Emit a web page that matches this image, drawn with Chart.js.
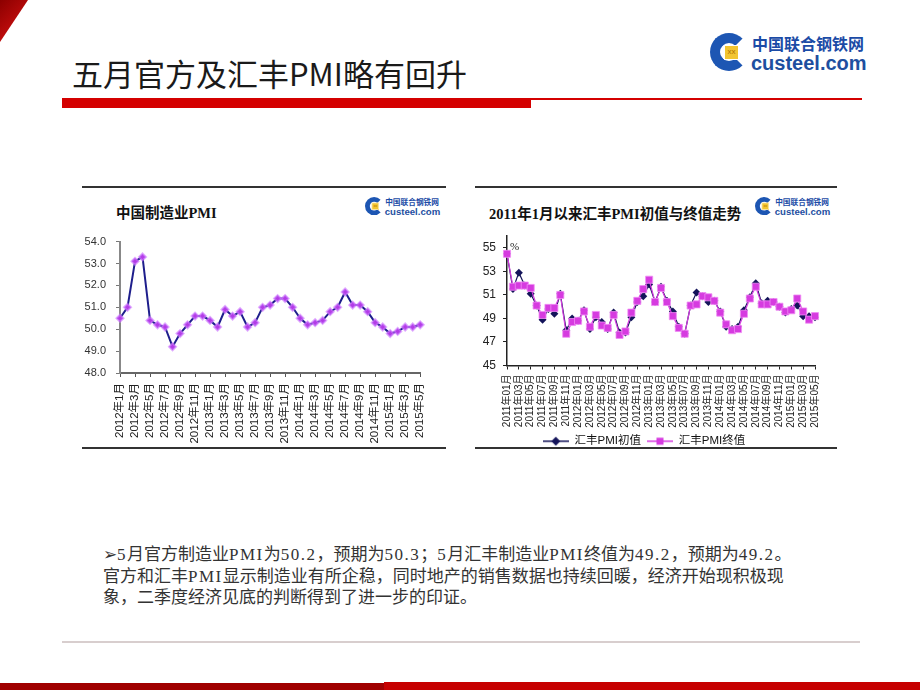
<!DOCTYPE html>
<html lang="zh">
<head>
<meta charset="UTF-8">
<title>五月官方及汇丰PMI略有回升</title>
<script src="https://cdn.jsdelivr.net/npm/chart.js"></script>
<style>
  * { margin: 0; padding: 0; }
  body {
    width: 920px; height: 690px; position: relative; overflow: hidden;
    background: #fff; font-family: "Noto Sans CJK SC", sans-serif;
  }
  .corner {
    position: absolute; left: 0; top: 0; width: 28px; height: 42px;
    background: linear-gradient(135deg, #8c0000, #e01414);
    clip-path: polygon(0 0, 100% 0, 0 100%);
  }
  .slideTitle {
    position: absolute; left: 72px; top: 53px; font-size: 31px; line-height: 40px;
    color: #1a1a1a; white-space: nowrap;
  }
  .barThick { position: absolute; left: 62px; top: 98px; width: 469px; height: 10px; background: #d40000; }
  .barThin { position: absolute; left: 531px; top: 98px; width: 331px; height: 1.5px; background: #d40000; }

  .logo { position: absolute; width: 170px; height: 44px; transform-origin: 0 0; }
  .logoC {
    position: absolute; left: 0; top: 2px; width: 38px; height: 38px; box-sizing: border-box;
    border-radius: 50%; border: 10px solid #1d56b3; border-right-color: transparent;
  }
  .logoX {
    position: absolute; left: 14px; top: 14px; width: 13px; height: 13px; background: #f2c531;
    border: 1px solid #fff; font: 8px/12px "Liberation Sans", sans-serif; color: #b07000; text-align: center;
  }
  .logoCn { position: absolute; left: 42px; top: 2px; font-size: 16px; line-height: 20px; font-weight: bold; color: #1b4ba6; white-space: nowrap; }
  .logoEn { position: absolute; left: 41px; top: 20px; font: bold 20px/24px "Liberation Sans", sans-serif; color: #1e4f9f; white-space: nowrap; }

  .panel {
    position: absolute; top: 186px; height: 263px; box-sizing: border-box;
    border-top: 2px solid #333; border-bottom: 2px solid #333; background: #fff;
  }
  .chartTitle {
    position: absolute; font-family: "Liberation Serif", "Noto Sans CJK SC", serif;
    font-weight: bold; font-size: 14.5px; line-height: 18px; color: #111; white-space: nowrap;
  }
  .box { position: absolute; }

  .note {
    position: absolute; left: 103px; top: 544px; width: 720px;
    font-family: "Liberation Serif", "Noto Sans CJK SC", serif;
    font-size: 17px; line-height: 21.5px; color: #333; white-space: nowrap;
  }
  .note span { letter-spacing: 1.5px; }
  .footLine { position: absolute; left: 62px; top: 641px; width: 798px; height: 2px; background: #d8cece; }
  .footRedA { position: absolute; left: 0; top: 683px; width: 384px; height: 7px; background: #a00000; }
  .footRedB { position: absolute; left: 384px; top: 682px; width: 536px; height: 8px; background: #c60000; }
</style>
</head>
<body>
  <div class="corner"></div>
  <div class="slideTitle">五月官方及汇丰PMI略有回升</div>
  <div class="barThick"></div>
  <div class="barThin"></div>

  <div class="logo" style="left:710px; top:31px;">
    <div class="logoC"></div><div class="logoX">xx</div>
    <div class="logoCn">中国联合钢铁网</div>
    <div class="logoEn">custeel.com</div>
  </div>

  <!-- left panel: official PMI -->
  <div class="panel" style="left:82px; width:364px;"></div>
  <div class="chartTitle" style="left:116px; top:204px;">中国制造业PMI</div>
  <div class="logo" style="left:365px; top:196px; transform:scale(0.48);">
    <div class="logoC"></div><div class="logoX">xx</div>
    <div class="logoCn">中国联合钢铁网</div>
    <div class="logoEn">custeel.com</div>
  </div>
  <div class="box" style="left:80px; top:225px;">
    <canvas id="officialChart" width="360" height="225"></canvas>
  </div>

  <!-- right panel: HSBC PMI -->
  <div class="panel" style="left:475px; width:362px;"></div>
  <div class="chartTitle" style="left:489px; top:205px;">2011年1月以来汇丰PMI初值与终值走势</div>
  <div class="logo" style="left:755px; top:196px; transform:scale(0.48);">
    <div class="logoC"></div><div class="logoX">xx</div>
    <div class="logoCn">中国联合钢铁网</div>
    <div class="logoEn">custeel.com</div>
  </div>
  <div class="box" style="left:470px; top:222px;">
    <canvas id="hsbcChart" width="362" height="237"></canvas>
  </div>

  <div class="note">
    ➢<span>5</span>月官方制造业<span>PMI</span>为<span>50.2</span>，预期为<span>50.3</span>；<span>5</span>月汇丰制造业<span>PMI</span>终值为<span>49.2</span>，预期为<span>49.2</span>。<br>
    官方和汇丰<span>PMI</span>显示制造业有所企稳，同时地产的销售数据也持续回暖，经济开始现积极现<br>
    象，二季度经济见底的判断得到了进一步的印证。
  </div>
  <div class="footLine"></div>
  <div class="footRedA"></div>
  <div class="footRedB"></div>

<script>
// data
const officialMonths = [];
for (let y = 2012; y <= 2015; y++) {
  for (let m = 1; m <= 12; m++) {
    if (y === 2015 && m > 5) break;
    officialMonths.push(y + '年' + m + '月');
  }
}
const officialPMI = [
  50.5, 51.0, 53.1, 53.3, 50.4, 50.2, 50.1, 49.2, 49.8, 50.2, 50.6, 50.6,
  50.4, 50.1, 50.9, 50.6, 50.8, 50.1, 50.3, 51.0, 51.1, 51.4, 51.4, 51.0,
  50.5, 50.2, 50.3, 50.4, 50.8, 51.0, 51.7, 51.1, 51.1, 50.8, 50.3, 50.1,
  49.8, 49.9, 50.1, 50.1, 50.2
];

const hsbcMonths = [];
for (let y = 2011; y <= 2015; y++) {
  for (let m = 1; m <= 12; m++) {
    if (y === 2015 && m > 5) break;
    hsbcMonths.push(y + '年' + (m < 10 ? '0' + m : m) + '月');
  }
}
const hsbcFlash = [
  54.5, 51.5, 52.9, 51.8, 51.1, 50.1, 48.9, 49.8, 49.4, 51.1, 48.0, 49.0,
  48.8, 49.7, 48.1, 49.1, 48.7, 48.1, 49.5, 47.8, 47.8, 49.1, 50.4, 50.9,
  51.9, 50.4, 51.7, 50.5, 49.6, 48.3, 47.7, 50.1, 51.2, 50.9, 50.4, 50.5,
  49.6, 48.3, 48.1, 48.3, 49.7, 50.8, 52.0, 50.3, 50.5, 50.4, 50.0, 49.5,
  49.8, 50.1, 49.2, 49.2, 49.1
];
const hsbcFinal = [
  54.5, 51.7, 51.8, 51.8, 51.6, 50.1, 49.3, 49.9, 49.9, 51.0, 47.7, 48.7,
  48.8, 49.6, 48.3, 49.3, 48.4, 48.2, 49.3, 47.6, 47.9, 49.5, 50.5, 51.5,
  52.3, 50.4, 51.6, 50.4, 49.2, 48.2, 47.7, 50.1, 50.2, 50.9, 50.8, 50.5,
  49.5, 48.5, 48.0, 48.1, 49.4, 50.7, 51.7, 50.2, 50.2, 50.4, 50.0, 49.6,
  49.7, 50.7, 49.6, 48.9, 49.2
];
const hsbcYTicks = [45, 47, 49, 51, 53, 55];

const cjkFont = '"Liberation Sans", "Noto Sans CJK SC", sans-serif';

// every second month gets a label and a tick mark
function everyOther(value, index) {
  return index % 2 === 0 ? this.getLabelForValue(value) : null;
}

// official PMI
new Chart(document.getElementById('officialChart'), {
  type: 'line',
  data: {
    labels: officialMonths,
    datasets: [{
      label: '中国制造业PMI',
      data: officialPMI,
      borderColor: '#1e1e8c',
      borderWidth: 2,
      pointStyle: 'rectRot',
      pointRadius: 3.5,
      pointBackgroundColor: '#b23ce6',
      pointBorderColor: 'rgba(205, 120, 255, 0.6)',
      pointBorderWidth: 2,
      tension: 0
    }]
  },
  options: {
    responsive: false,
    animation: false,
    layout: { padding: { top: 10, right: 10, bottom: 0, left: 0 } },
    plugins: { legend: { display: false }, tooltip: { enabled: false } },
    scales: {
      x: {
        afterFit(scale) { scale.height = 77; },
        grid: { drawOnChartArea: false, tickLength: 4, color: '#555' },
        border: { color: '#666', width: 2 },
        ticks: {
          autoSkip: false, maxRotation: 90, minRotation: 90, padding: 6,
          color: '#222', font: { family: cjkFont, size: 11.5 },
          callback: everyOther
        }
      },
      y: {
        min: 48, max: 54,
        afterFit(scale) { scale.width = 40; },
        grid: { drawOnChartArea: false, tickLength: 4, color: '#777' },
        border: { color: '#888', width: 2 },
        ticks: {
          stepSize: 1, padding: 10, color: '#333',
          font: { family: '"Liberation Sans", sans-serif', size: 11 },
          callback: (v) => v.toFixed(1)
        }
      }
    }
  }
});

// legend marks: a short line with the series marker on it
function legendMark(color, shape) {
  const c = document.createElement('canvas');
  c.width = 26; c.height = 12;
  const g = c.getContext('2d');
  g.strokeStyle = color; g.lineWidth = 1.5;
  g.beginPath(); g.moveTo(0, 6); g.lineTo(26, 6); g.stroke();
  g.fillStyle = color;
  if (shape === 'diamond') {
    g.beginPath(); g.moveTo(13, 1.5); g.lineTo(17.5, 6); g.lineTo(13, 10.5); g.lineTo(8.5, 6); g.closePath(); g.fill();
  } else {
    g.fillRect(9.5, 2.5, 7, 7);
  }
  return c;
}
const flashMark = legendMark('#14145a', 'diamond');
const finalMark = legendMark('#d63be0', 'square');

const percentMark = {
  id: 'percentMark',
  afterDraw(chart) {
    const y = chart.scales.y;
    const ctx = chart.ctx;
    ctx.save();
    ctx.font = '11px "Liberation Serif", serif';
    ctx.fillStyle = '#222';
    ctx.textBaseline = 'middle';
    ctx.fillText('%', y.right + 3, y.getPixelForValue(55) - 1);
    ctx.restore();
  }
};

// HSBC flash vs final
new Chart(document.getElementById('hsbcChart'), {
  type: 'line',
  data: {
    labels: hsbcMonths,
    datasets: [{
      label: '汇丰PMI初值',
      data: hsbcFlash,
      order: 2,
      borderColor: '#14145a',
      borderWidth: 1.2,
      pointStyle: 'rectRot',
      pointRadius: 4,
      pointBackgroundColor: '#14145a',
      pointBorderColor: '#14145a',
      pointBorderWidth: 0,
      tension: 0
    }, {
      label: '汇丰PMI终值',
      data: hsbcFinal,
      order: 1,
      borderColor: '#d63be0',
      borderWidth: 1.2,
      pointStyle: 'rect',
      pointRadius: 5,
      pointBackgroundColor: '#d63be0',
      pointBorderColor: 'rgba(240, 140, 245, 0.8)',
      pointBorderWidth: 1,
      tension: 0
    }]
  },
  options: {
    responsive: false,
    animation: false,
    layout: { padding: { top: 6, right: 14, bottom: 2, left: 0 } },
    plugins: {
      tooltip: { enabled: false },
      legend: {
        position: 'bottom',
        labels: {
          usePointStyle: true,
          pointStyleWidth: 26,
          padding: 6,
          color: '#111',
          font: { family: cjkFont, size: 11.5 },
          sort: (a, b) => a.datasetIndex - b.datasetIndex,
          generateLabels(chart) {
            const items = Chart.defaults.plugins.legend.labels.generateLabels(chart);
            items.forEach((it) => { it.pointStyle = it.datasetIndex === 0 ? flashMark : finalMark; });
            return items;
          }
        }
      }
    },
    scales: {
      x: {
        afterFit(scale) { scale.height = 64; },
        grid: { drawOnChartArea: false, tickLength: 4, color: '#222' },
        border: { color: '#222', width: 1.5 },
        ticks: {
          autoSkip: false, maxRotation: 90, minRotation: 90, padding: 5,
          color: '#222', font: { family: cjkFont, size: 10 },
          callback: everyOther
        }
      },
      y: {
        min: 45, max: 56,
        afterFit(scale) { scale.width = 37; },
        afterBuildTicks(scale) { scale.ticks = hsbcYTicks.map((v) => ({ value: v })); },
        grid: { drawOnChartArea: false, tickLength: 4, color: '#222' },
        border: { color: '#222', width: 1.5 },
        ticks: {
          padding: 7, color: '#222',
          font: { family: '"Liberation Sans", sans-serif', size: 12 }
        }
      }
    }
  },
  plugins: [percentMark]
});
</script>
</body>
</html>
